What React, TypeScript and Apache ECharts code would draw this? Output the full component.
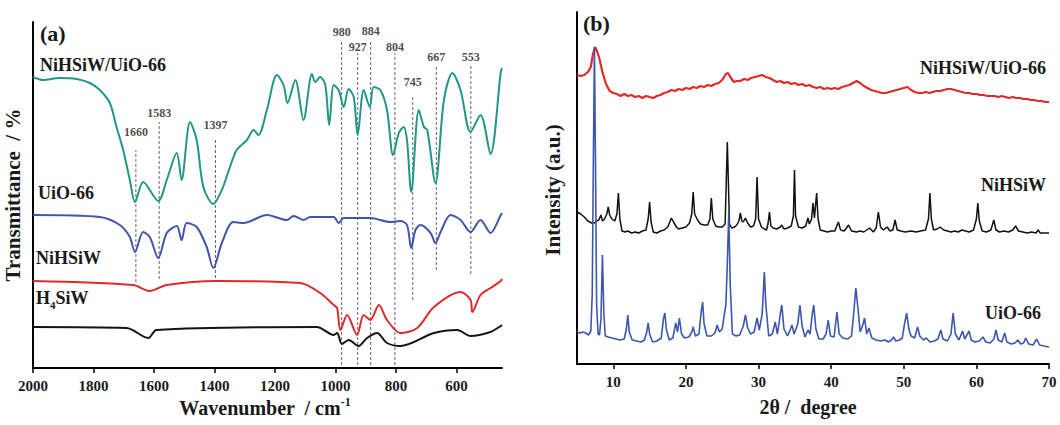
import React, { useEffect, useRef } from "react";
import * as echarts from "echarts";

// ---------- (a) FTIR data: [wavenumber cm-1, offset transmittance (a.u.)] ----------
const ftirCompositeNiHSiWUiO66 = [
  [2000, 291], [1967, 288], [1912, 290], [1856, 289], [1812, 285], [1779, 278], [1746, 265],
  [1724, 241], [1702, 218], [1680, 188], [1663, 166], [1636, 186], [1586, 167], [1558, 188],
  [1525, 215], [1509, 188], [1481, 246], [1459, 228], [1437, 181], [1404, 164], [1376, 178],
  [1349, 201], [1327, 218], [1293, 228], [1271, 238], [1255, 233], [1227, 258], [1194, 293],
  [1172, 283], [1159, 265], [1133, 288], [1106, 248], [1078, 294], [1067, 286], [1051, 291],
  [1034, 283], [1021, 243], [1006, 283], [990, 278], [973, 261], [957, 279], [940, 271],
  [927, 233], [907, 278], [887, 261], [874, 281], [852, 278], [830, 258], [810, 213],
  [791, 235], [775, 241], [764, 228], [750, 176], [725, 258], [708, 241], [697, 238],
  [670, 185], [642, 268], [614, 295], [587, 278], [554, 236], [521, 253], [488, 214],
  [454, 296], [450, 300],
];
const ftirUiO66 = [
  [2000, 153], [1779, 151], [1713, 143], [1680, 131], [1663, 116], [1636, 136], [1614, 131],
  [1586, 110], [1558, 135], [1525, 142], [1509, 128], [1492, 145], [1459, 141], [1426, 121],
  [1404, 100], [1376, 125], [1338, 146], [1304, 145], [1227, 153], [1161, 148], [1139, 152],
  [1106, 148], [1084, 151], [1006, 151], [990, 145], [973, 150], [885, 150], [819, 146],
  [786, 147], [764, 143], [750, 120], [736, 138], [719, 143], [686, 135], [670, 125],
  [653, 136], [620, 153], [587, 148], [554, 136], [521, 148], [488, 135], [454, 153], [450, 155],
];
const ftirNiHSiW = [
  [2000, 87], [1669, 83], [1614, 77], [1558, 83], [1393, 87], [1117, 85], [1051, 75],
  [1006, 63], [995, 60], [984, 38], [962, 53], [929, 33], [907, 53], [885, 48], [857, 63],
  [830, 48], [786, 35], [730, 40], [675, 61], [587, 76], [554, 68], [548, 56], [521, 73],
  [488, 80], [454, 87], [450, 89],
];
const ftirH4SiW = [
  [2000, 41], [1691, 40], [1619, 30], [1592, 38], [1062, 41], [1006, 33], [995, 35],
  [979, 24], [957, 28], [924, 22], [896, 30], [863, 35], [830, 25], [786, 22], [675, 35],
  [598, 38], [554, 32], [488, 36], [454, 42], [450, 43],
];
const bandPositions = [1660, 1583, 1397, 980, 927, 884, 804, 745, 667, 553];
const bandLineTop = [218, 246, 230, 328, 315, 328, 315, 273, 303, 303];
const bandLineBottom = [86, 89, 90, 3, 3, 3, 3, 68, 98, 94];
const bandLabelLevel = [236, 255, 243, 336, 321, 337, 321, 286, 311, 311];
const ftirTicks = [2000, 1800, 1600, 1400, 1200, 1000, 800, 600];

// ---------- (b) XRD data: [2θ degree, offset intensity (a.u.)] ----------
const xrdCompositeNiHSiWUiO66 = [
  [5.0, 289], [5.5, 288], [6.0, 289], [6.5, 292], [6.9, 297], [7.2, 310], [7.5, 317], [7.8, 312],
  [8.1, 305], [8.5, 292], [9.0, 280], [9.5, 273], [10, 271], [10.5, 270], [11, 268], [11.5, 270],
  [12, 268], [12.5, 269], [13, 267], [13.5, 268], [14, 266], [14.5, 268], [15, 267], [15.5, 266],
  [16, 268], [16.5, 269], [17, 271], [17.5, 272], [18, 274], [18.5, 273], [19, 275], [19.5, 274],
  [20, 276], [20.5, 275], [21, 277], [21.5, 276], [22, 278], [22.5, 277], [23, 279], [23.5, 278],
  [24, 280], [24.5, 281], [25, 284], [25.5, 290], [25.8, 291], [26.2, 286], [26.6, 282], [27, 283],
  [27.5, 283], [28, 285], [28.5, 284], [29, 286], [29.5, 287], [30, 288], [30.5, 289], [31, 287],
  [31.5, 286], [32, 284], [32.5, 282], [33, 283], [33.5, 281], [34, 282], [34.5, 280], [35, 281],
  [35.5, 279], [36, 280], [36.5, 278], [37, 279], [37.5, 277], [38, 276], [38.5, 277], [39, 275],
  [39.5, 276], [40, 275], [40.5, 276], [41, 275], [41.5, 277], [42, 278], [42.5, 279], [43, 281],
  [43.5, 283], [44, 281], [44.5, 278], [45, 276], [45.5, 274], [46, 273], [46.5, 272], [47, 271],
  [47.5, 271], [48, 272], [48.5, 273], [49, 274], [49.5, 275], [50, 276], [50.5, 277], [51, 274],
  [51.5, 272], [52, 271], [52.5, 271], [53, 272], [53.5, 271], [54, 272], [54.5, 273], [55, 273],
  [55.5, 274], [56, 275], [56.5, 275], [57, 274], [57.5, 273], [58, 272], [58.5, 271], [59, 271],
  [59.5, 270], [60, 270], [60.5, 269], [61, 269], [61.5, 268], [62, 268], [62.5, 268], [63, 267],
  [63.5, 268], [64, 267], [64.5, 266], [65, 267], [65.5, 266], [66, 266], [66.5, 265], [67, 265],
  [67.5, 264], [68, 264], [68.5, 263], [69, 263], [69.5, 262], [70, 262],
];
const xrdNiHSiW = [
  [5.0, 152], [5.5, 150], [6.0, 147], [6.5, 143], [7.0, 141], [7.4, 141], [7.7, 143], [8.0, 144],
  [8.3, 149], [8.5, 143], [8.8, 145], [9.1, 150], [9.3, 157], [9.5, 149], [9.8, 145], [10.2, 143],
  [10.5, 150], [10.7, 171], [10.9, 145], [11.2, 133], [11.6, 132], [12, 133], [12.5, 131], [13, 132],
  [13.5, 131], [14, 133], [14.5, 134], [14.8, 145], [15.0, 162], [15.2, 142], [15.5, 132], [16, 131],
  [16.5, 133], [17, 134], [17.5, 137], [18.0, 146], [18.3, 142], [18.7, 137], [19, 135], [19.5, 136],
  [20, 137], [20.5, 141], [20.8, 150], [21.0, 172], [21.2, 150], [21.6, 144], [22, 140], [22.5, 139],
  [23, 139], [23.3, 145], [23.5, 166], [23.7, 145], [24.1, 138], [24.5, 137], [25, 137], [25.4, 140],
  [25.7, 222], [26.0, 140], [26.3, 136], [26.7, 137], [27, 139], [27.3, 143], [27.5, 151], [27.7, 143],
  [27.9, 142], [28.2, 146], [28.5, 141], [28.9, 137], [29.3, 138], [29.6, 145], [29.8, 187], [30.0, 145],
  [30.4, 137], [30.8, 135], [31.1, 134], [31.3, 140], [31.5, 152], [31.7, 138], [32, 136], [32.5, 135],
  [33, 137], [33.2, 139], [33.5, 135], [34, 136], [34.5, 138], [34.8, 148], [34.95, 194], [35.1, 148],
  [35.5, 137], [36, 136], [36.5, 138], [36.8, 146], [37.0, 140], [37.3, 145], [37.5, 161], [37.7, 146],
  [38.0, 171], [38.2, 145], [38.5, 134], [39, 133], [39.5, 132], [40, 133], [40.5, 133], [41.0, 142],
  [41.3, 134], [41.8, 133], [42.4, 139], [42.8, 133], [43.5, 132], [44, 133], [44.5, 132], [45.3, 136],
  [45.8, 132], [46.2, 136], [46.5, 152], [46.8, 137], [47.2, 134], [47.7, 137], [48.1, 133], [48.5, 134],
  [48.8, 144], [49.1, 134], [49.6, 133], [50.2, 132], [51, 133], [51.7, 132], [52.3, 133], [53, 134],
  [53.4, 145], [53.6, 171], [53.8, 145], [54.1, 134], [54.6, 135], [55, 137], [55.5, 134], [56, 133],
  [56.5, 132], [57, 133], [57.5, 132], [58, 134], [58.5, 133], [59, 132], [59.6, 134], [60.0, 145],
  [60.2, 161], [60.4, 143], [60.8, 133], [61.4, 132], [62, 134], [62.4, 144], [62.7, 134], [63.2, 132],
  [63.8, 133], [64.4, 132], [65.0, 134], [65.4, 138], [65.8, 133], [66.4, 132], [67, 131], [67.6, 132],
  [68.2, 131], [68.5, 134], [68.8, 131], [69.4, 131], [70, 131],
];
const xrdUiO66 = [
  [5.0, 32], [5.4, 31], [5.8, 32], [6.2, 31], [6.6, 29], [6.9, 33], [7.1, 70], [7.25, 200], [7.4, 317],
  [7.55, 200], [7.7, 60], [7.9, 30], [8.1, 29], [8.3, 45], [8.5, 109], [8.7, 50], [8.9, 28], [9.3, 27],
  [9.8, 26], [10.4, 25], [10.9, 24], [11.5, 25], [11.8, 35], [12.0, 49], [12.2, 32], [12.6, 24],
  [13.2, 23], [13.8, 22], [14.3, 24], [14.6, 32], [14.8, 41], [15.0, 30], [15.4, 22], [16, 23],
  [16.6, 26], [16.9, 45], [17.1, 51], [17.3, 35], [17.7, 24], [18.2, 26], [18.6, 41], [18.85, 32],
  [19.1, 46], [19.4, 30], [19.8, 26], [20.4, 27], [20.8, 32], [21.0, 37], [21.3, 28], [21.8, 30],
  [22.1, 52], [22.3, 62], [22.5, 40], [22.9, 28], [23.5, 28], [24.0, 31], [24.3, 39], [24.6, 32],
  [25.0, 35], [25.3, 50], [25.5, 59], [25.7, 100], [25.9, 152], [26.1, 80], [26.4, 30], [26.9, 28],
  [27.4, 29], [27.9, 38], [28.2, 49], [28.5, 36], [28.9, 30], [29.4, 32], [29.8, 46], [30.1, 34],
  [30.5, 50], [30.8, 92], [31.0, 60], [31.4, 28], [31.9, 30], [32.3, 42], [32.6, 30], [33.0, 50],
  [33.2, 59], [33.5, 35], [34.0, 28], [34.4, 35], [34.6, 39], [34.9, 30], [35.4, 40], [35.7, 59],
  [36.0, 38], [36.4, 27], [36.8, 34], [37.1, 30], [37.4, 50], [37.6, 59], [37.9, 35], [38.3, 25],
  [38.9, 25], [39.3, 30], [39.6, 44], [39.9, 28], [40.4, 27], [40.8, 52], [41.1, 30], [41.6, 26],
  [42.3, 25], [42.8, 28], [43.1, 50], [43.4, 76], [43.7, 55], [44.0, 32], [44.4, 40], [44.6, 46],
  [44.9, 30], [45.2, 36], [45.6, 26], [46.2, 24], [46.8, 23], [47.4, 24], [47.9, 22], [48.3, 24],
  [48.6, 27], [48.9, 23], [49.4, 24], [49.8, 26], [50.1, 40], [50.4, 51], [50.7, 35], [51.0, 28],
  [51.5, 26], [51.9, 37], [52.2, 28], [52.7, 24], [53.1, 26], [53.6, 22], [54.2, 23], [54.7, 25],
  [55.1, 34], [55.4, 25], [56.0, 23], [56.5, 30], [56.8, 51], [57.1, 30], [57.6, 24], [58.1, 33],
  [58.4, 25], [59.0, 33], [59.3, 24], [59.8, 22], [60.4, 23], [60.9, 27], [61.3, 22], [61.9, 21],
  [62.4, 25], [62.7, 34], [63.0, 24], [63.5, 22], [63.9, 31], [64.2, 22], [64.8, 20], [65.3, 21],
  [65.7, 24], [66.1, 20], [66.5, 21], [66.8, 26], [67.2, 20], [67.8, 19], [68.3, 25], [68.7, 19],
  [69.3, 18], [70, 17],
];
const xrdTicks = [10, 20, 30, 40, 50, 60, 70];

const FONT = '"Liberation Serif", "Times New Roman", serif';
const TXT = "#1a1a1a";

function buildOption() {
  const axisLine = { show: true, onZero: false, lineStyle: { color: "#000", width: 2 } };
  const tickLabel = (vals: number[]) => ({
    customValues: vals,
    formatter: (v: number) => String(v),
    fontFamily: FONT,
    fontWeight: "bold" as const,
    fontSize: 15,
    color: TXT,
    margin: 10,
  });
  const tick = (vals: number[]) => ({
    show: true,
    customValues: vals,
    length: 5,
    inside: false,
    lineStyle: { color: "#000", width: 1.5 },
  });

  const series: any[] = [];
  const ftirLine = (data: number[][], color: string) => ({
    type: "line",
    xAxisIndex: 0,
    yAxisIndex: 0,
    data,
    symbol: "none",
    smooth: 0.3,
    lineStyle: { color, width: 2 },
    silent: true,
    z: 3,
  });
  series.push(ftirLine(ftirCompositeNiHSiWUiO66, "#22968a"));
  series.push(ftirLine(ftirUiO66, "#4354ab"));
  series.push(ftirLine(ftirNiHSiW, "#dc2b2b"));
  series.push(ftirLine(ftirH4SiW, "#141414"));

  bandPositions.forEach((wn, i) => {
    series.push({
      type: "line",
      xAxisIndex: 0,
      yAxisIndex: 0,
      data: [
        [wn, bandLineBottom[i]],
        [wn, bandLineTop[i]],
      ],
      symbol: "none",
      lineStyle: { color: "#666", width: 1, type: [3, 2] },
      silent: true,
      z: 2,
    });
  });
  series.push({
    type: "scatter",
    xAxisIndex: 0,
    yAxisIndex: 0,
    symbolSize: 1,
    itemStyle: { color: "rgba(0,0,0,0)" },
    silent: true,
    data: bandPositions.map((wn, i) => [wn, bandLabelLevel[i]]),
    label: {
      show: true,
      position: "inside",
      formatter: (p: any) => String(p.value[0]),
      fontFamily: FONT,
      fontWeight: "bold",
      fontSize: 12,
      color: TXT,
    },
    z: 4,
  });

  const xrdLine = (data: number[][], color: string, width: number, z: number) => ({
    type: "line",
    xAxisIndex: 1,
    yAxisIndex: 1,
    data,
    symbol: "none",
    lineStyle: { color, width },
    silent: true,
    z,
  });
  series.push(xrdLine(xrdCompositeNiHSiWUiO66, "#e02a2a", 2.2, 3));
  series.push(xrdLine(xrdNiHSiW, "#111111", 1.5, 4));
  series.push(xrdLine(xrdUiO66, "#3d56b0", 1.6, 5));

  const t = (text: string, x: number, y: number, size: number, align = "left", extra: any = {}) => ({
    type: "text",
    x,
    y,
    silent: true,
    ...extra,
    style: {
      text,
      fontFamily: FONT,
      fontWeight: "bold",
      fontSize: size,
      fill: TXT,
      textAlign: align,
      textVerticalAlign: "middle",
    },
  });

  const graphic: any[] = [
    t("(a)", 40, 33, 22),
    t("(b)", 583, 23, 22),
    t("NiHSiW/UiO-66", 40, 65, 18),
    t("UiO-66", 38, 193, 18),
    t("NiHSiW", 36, 258, 18),
    {
      type: "text",
      x: 36,
      y: 298,
      silent: true,
      style: {
        text: "{a|H}{s|4}{a|SiW}",
        fontFamily: FONT,
        fontWeight: "bold",
        fill: TXT,
        textAlign: "left",
        textVerticalAlign: "middle",
        rich: {
          a: { fontFamily: FONT, fontWeight: "bold", fontSize: 18, fill: TXT, lineHeight: 24, verticalAlign: "middle" },
          s: { fontFamily: FONT, fontWeight: "bold", fontSize: 11, fill: TXT, lineHeight: 24, verticalAlign: "bottom" },
        },
      },
    },
    t("NiHSiW/UiO-66", 1046, 68, 18, "right"),
    t("NiHSiW", 1046, 185, 18, "right"),
    t("UiO-66", 1041, 313, 18, "right"),
    {
      type: "text",
      x: 265,
      y: 408,
      silent: true,
      style: {
        text: "{n|Wavenumber  / cm}{s|-1}",
        fontFamily: FONT,
        fontWeight: "bold",
        fill: TXT,
        textAlign: "center",
        textVerticalAlign: "middle",
        rich: {
          n: { fontFamily: FONT, fontWeight: "bold", fontSize: 20, fill: TXT, lineHeight: 24, verticalAlign: "middle" },
          s: { fontFamily: FONT, fontWeight: "bold", fontSize: 12, fill: TXT, lineHeight: 24, verticalAlign: "top" },
        },
      },
    },
    t("2θ /  degree", 808, 407, 20, "center"),
    t("Transmittance  / %", 13, 195, 21, "center", { rotation: Math.PI / 2 }),
    t("Intensity (a.u.)", 553, 190, 21, "center", { rotation: Math.PI / 2 }),
  ];

  return {
    animation: false,
    backgroundColor: "#ffffff",
    grid: [
      { left: 33, top: 22, width: 469, height: 346, containLabel: false },
      { left: 577, top: 12, width: 472, height: 352, containLabel: false },
    ],
    xAxis: [
      {
        type: "value",
        gridIndex: 0,
        min: 450,
        max: 2000,
        inverse: true,
        axisLine,
        axisTick: tick(ftirTicks),
        axisLabel: tickLabel(ftirTicks),
        splitLine: { show: false },
      },
      {
        type: "value",
        gridIndex: 1,
        min: 5,
        max: 70,
        axisLine,
        axisTick: tick(xrdTicks),
        axisLabel: tickLabel(xrdTicks),
        splitLine: { show: false },
      },
    ],
    yAxis: [
      {
        type: "value",
        gridIndex: 0,
        min: 0,
        max: 346,
        axisLine,
        axisTick: { show: false },
        axisLabel: { show: false },
        splitLine: { show: false },
      },
      {
        type: "value",
        gridIndex: 1,
        min: 0,
        max: 352,
        axisLine,
        axisTick: { show: false },
        axisLabel: { show: false },
        splitLine: { show: false },
      },
    ],
    series,
    graphic,
  };
}

export default function App() {
  const ref = useRef<HTMLDivElement>(null);
  useEffect(() => {
    if (!ref.current) return;
    const chart = echarts.init(ref.current, null, { renderer: "svg" });
    chart.setOption(buildOption() as any);
    return () => chart.dispose();
  }, []);
  return (
    <div
      ref={ref}
      style={{ position: "fixed", left: 0, top: 0, width: 1060, height: 425, background: "#fff" }}
    />
  );
}
